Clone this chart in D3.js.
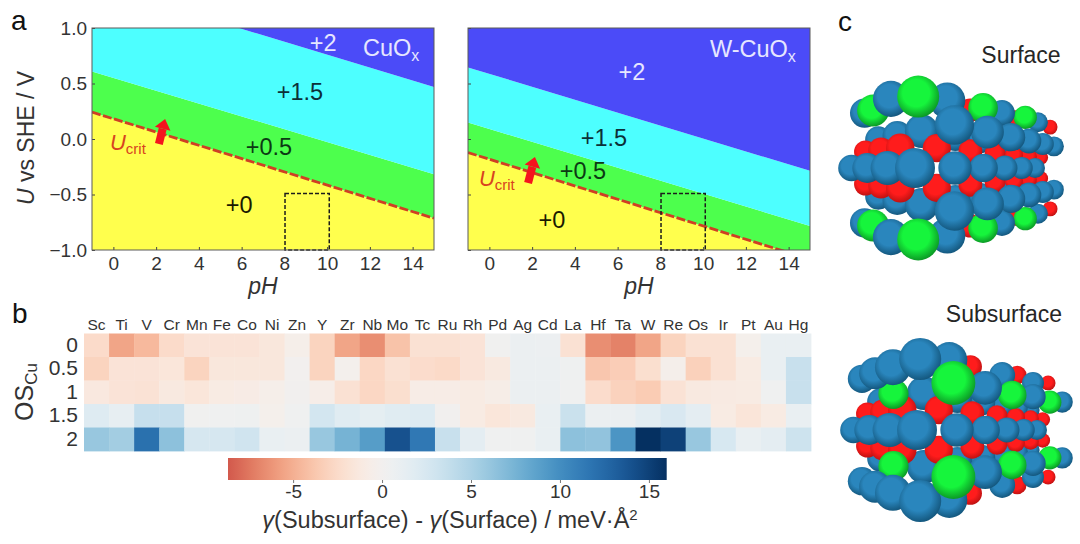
<!DOCTYPE html>
<html>
<head>
<meta charset="utf-8">
<script src="https://d3js.org/d3.v7.min.js"></script>
<style>
  body { margin: 0; background: #fff; }
  svg { display: block; }
  text { font-family: "Liberation Sans", Arial, sans-serif; fill: #262626; }
</style>
</head>
<body>
<svg id="chart" width="1080" height="544"></svg>
<script>
// panel a: band edges, U at pH -1 and pH 15
let phEnds = [-1, 15]
let phTicks = [0, 2, 4, 6, 8, 10, 12, 14]
let uTicks = [-1, -0.5, 0, 0.5, 1]
let bandColors = ["#ffff4d", "#4dff4d", "#4dffff", "#4b4bf8"]
let cuoxCrit = [0.242, -0.714]
let cuoxEdge1 = [0.609, -0.317]
let cuoxEdge2 = [1.40, 0.468]
let wcuoxCrit = [-0.122, -1.084]
let wcuoxEdge1 = [0.149, -0.783]
let wcuoxEdge2 = [0.645, -0.287]
let boxPh = [8.03, 10.1]
let boxU = [-1, -0.49]

// [text, pH, U, colour]
let cuoxLabels = [["+2", 9.81, 0.865, "#e6e6ff"], ["+1.5", 8.73, 0.423, "#0c3038"], ["+0.5", 7.28, -0.072, "#0c3a14"], ["+0", 5.88, -0.595, "#1a1a00"]]
let wcuoxLabels = [["+2", 6.67, 0.604, "#e6e6ff"], ["+1.5", 5.36, 0.009, "#0c3038"], ["+0.5", 4.38, -0.288, "#0c3a14"], ["+0", 2.93, -0.73, "#1a1a00"]]
// arrow tail and tip as [pH, U]
let cuoxArrow = [[2.13, -0.045], [2.42, 0.18]]
let wcuoxArrow = [[1.81, -0.396], [2.13, -0.162]]

// panel b
let elements = ["Sc","Ti","V","Cr","Mn","Fe","Co","Ni","Zn","Y","Zr","Nb","Mo","Tc","Ru","Rh","Pd","Ag","Cd","La","Hf","Ta","W","Re","Os","Ir","Pt","Au","Hg"]
let osLevels = ["0", "0.5", "1", "1.5", "2"]
let os0 = [-2.5,-5.5,-4.5,-2.5,-1.8,-1.8,-1.8,-1.5,-0.5,-3,-5.5,-6.5,-4,-2,-2,-1.8,0.2,0.8,0.7,-2,-6.5,-7,-5.5,-3,-2,-2,-0.3,1,1]
let os05 = [-3,-1.8,-1.8,-1.6,-3,-1.5,-1.5,-1.5,0,-3,-0.2,-2.8,-2,-2.4,-2.6,-1.8,-1.2,0.8,0.8,0.5,-3.8,-3.4,-2.2,-0.4,-3.2,-2,-1,1,3.5]
let os1 = [-1.3,-1.8,-1.9,-1.2,-1.6,-1,-0.9,-0.5,0.1,-0.6,-2,-2.8,-2.2,-0.8,-0.8,-1,-0.7,0.8,0.8,0.3,-2.4,-3.1,-3.5,-1.9,-1.2,-1.1,-1,0.3,3.5]
let os15 = [2,1.2,3.6,3.6,0.2,0.4,0.5,-0.3,0.4,2.8,1.8,1.4,1.8,2,0.1,-1,-1.6,-1.2,1,3.4,0.8,0.8,1.6,2.4,1.5,-1,-1.7,-1,1]
let os2 = [6,5.5,12,6.5,2.6,2.6,3,1,0.8,6,7.5,9,14,11.5,3.5,1.5,0.3,0.3,1,6.5,6.3,9.5,16,15,6,2.5,1,1.5,3.2]
let barDomain = [-8.66, 16]
let barTicks = [-5, 0, 5, 10, 15]

// panel c: atoms as [kind, a, b, h] in lattice units, h is mirrored to -h
let midRowAtoms = [[0,0],[1,0],[2,0],[3,0],[4,0],[5,0],[0,1],[0,2],[0,3]]
let oxygenAtoms = [[0.5,0],[1.5,0],[2.5,0],[3.5,0],[4.5,0],[5.5,0],[0,0.5],[0,1.3],[0,2.1]]
let innerAtoms = [[1.5,0.5],[2.5,0.5],[3.5,0.5],[4.5,0.5],[5.5,0.5]]
let surfaceAtoms = [
  ["B",0.5,-0.5,1],["B",1.5,-0.5,1],["B",2.5,-0.5,1],["B",3.5,-0.5,1],["B",4.5,-0.5,1],["B",5.5,-0.5,1],
  ["B",0.5,0.5,1],["B",0.5,1.5,1],["B",0.5,2.5,1],
  ["G",-0.07,-0.2,1.56],["B",0.66,-0.13,1.72],["G",1.84,-0.11,1.86],["B",2.75,-0.06,1.94],["G",3.8,-0.23,2],["B",5.07,-0.08,2.1],
  ["B",-0.07,0.73,1.76],["G",-0.06,1.55,1.65],["B",0,2.15,1.72],
  ["R",1.55,0.05,1.75],["R",3.4,-0.1,1.85],["R",5.65,-0.3,1.95]
]
let subsurfaceAtoms = [
  ["G",0.19,-0.75,0.98],["B",1.36,-0.49,1.15],["G",2.46,-0.5,1.13],["B",3.43,-0.6,1.21],["G",4.26,-0.76,1.1],["B",5.15,-0.84,1.21],
  ["B",0.5,0.5,1],["G",0.35,1.5,1.1],["B",0.5,2.5,1],
  ["B",-0.07,-0.2,1.55],["B",0.66,-0.13,1.78],["B",2.72,-0.02,1.94],["B",4.26,-0.2,1.96],
  ["B",-0.07,0.73,1.6],["B",-0.06,1.55,1.63],["B",0,2.43,1.66],
  ["R",1.56,0.12,1.93],["R",3.41,-0.1,2.1],["R",5.57,-0.18,2.25]
]

let svg = d3.select("#chart")
let defs = svg.append("defs")

function panelLetter(text, x, y) {
  svg.append("text").attr("x", x).attr("y", y).style("font-size", "28px").style("fill", "#111").text(text)
}
panelLetter("a", 11, 30)
panelLetter("b", 12, 323)
panelLetter("c", 838, 31)

// ---- panel a ----
function drawDiagram(id, left, crit, edge1, edge2, labels, arrow, showU) {
  let x = d3.scaleLinear().domain(phEnds).range([left, left + 342])
  let y = d3.scaleLinear().domain([-1, 1]).range([250, 28])
  let g = svg.append("g").attr("id", id)

  defs.append("clipPath").attr("id", "clip-" + id).append("rect")
      .attr("x", left).attr("y", 28).attr("width", 342).attr("height", 222)

  let floorU = [-1.2, -1.2]
  let roofU = [1.6, 1.6]
  let edges = [floorU, crit, edge1, edge2, roofU]
  let area = d3.area()
      .x(d => x(d.ph))
      .y0(d => y(d.lo))
      .y1(d => y(d.hi))

  bandColors.forEach((color, i) => {
    let points = phEnds.map((ph, k) => ({ph: ph, lo: edges[i][k], hi: edges[i + 1][k]}))
    g.append("path").attr("d", area(points)).attr("fill", color)
        .attr("clip-path", "url(#clip-" + id + ")")
  })

  // critical potential
  let line = d3.line().x(d => x(d[0])).y(d => y(d[1]))
  g.append("path").attr("d", line(phEnds.map((ph, k) => [ph, crit[k]])))
      .attr("fill", "none").attr("stroke", "#cf3f24").attr("stroke-width", 2.8)
      .attr("stroke-dasharray", "9 2.5").attr("clip-path", "url(#clip-" + id + ")")

  // dashed box
  g.append("rect").attr("x", x(boxPh[0])).attr("y", y(boxU[1]))
      .attr("width", x(boxPh[1]) - x(boxPh[0])).attr("height", y(boxU[0]) - y(boxU[1]))
      .attr("fill", "none").attr("stroke", "#1c1c1c").attr("stroke-width", 1.5).attr("stroke-dasharray", "4 2")

  // red arrow
  let x0 = x(arrow[0][0]), y0 = y(arrow[0][1]), x1 = x(arrow[1][0]), y1 = y(arrow[1][1])
  let len = Math.hypot(x1 - x0, y1 - y0)
  let ux = (x1 - x0) / len, uy = (y1 - y0) / len
  let bx = x1 - ux * 10, by = y1 - uy * 10
  g.append("line").attr("x1", x0).attr("y1", y0).attr("x2", bx).attr("y2", by)
      .attr("stroke", "#f5141e").attr("stroke-width", 8)
  g.append("path").attr("fill", "#f5141e")
      .attr("d", "M" + x1 + "," + y1 + "L" + (bx - uy * 8) + "," + (by + ux * 8) + "L" + (bx + uy * 8) + "," + (by - ux * 8) + "Z")

  g.selectAll("text.state").data(labels).enter().append("text")
      .attr("class", "state")
      .attr("x", d => x(d[1])).attr("y", d => y(d[2]))
      .attr("text-anchor", "middle").attr("dominant-baseline", "central")
      .style("font-size", "23.5px").style("fill", d => d[3])
      .text(d => d[0])

  // axes
  let xAxis = d3.axisBottom(x).tickValues(phTicks).tickFormat(d3.format("d"))
      .tickSizeInner(-3).tickSizeOuter(0).tickPadding(6.5)
  let yAxis = d3.axisLeft(y).tickValues(uTicks).tickSizeInner(-3).tickSizeOuter(0).tickPadding(5)
      .tickFormat(showU ? d3.format(".1f") : "")
  let xg = g.append("g").attr("transform", "translate(0,250)").call(xAxis)
  let yg = g.append("g").attr("transform", "translate(" + left + ",0)").call(yAxis)
  ;[xg, yg].forEach(a => {
    a.selectAll("text").style("font-size", "19px").style("font-family", "'Liberation Sans'").style("fill", "#333")
    a.selectAll("line").attr("stroke", "#444")
    a.select(".domain").remove()
  })
  g.append("rect").attr("x", left).attr("y", 28).attr("width", 342).attr("height", 222)
      .attr("fill", "none").attr("stroke", "#5a5a5a").attr("stroke-width", 1)

  let label = g.append("text").attr("x", left + 171).attr("y", 294)
      .attr("text-anchor", "middle").style("font-size", "23px").style("font-style", "italic").style("fill", "#333")
      .text("pH")
  return {g: g, x: x, y: y, label: label}
}

function addName(p, ph, u, name, sizeSub) {
  let t = p.g.append("text").attr("x", p.x(ph)).attr("y", p.y(u)).style("font-size", "23.5px").style("fill", "#e6e6ff")
  t.append("tspan").style("fill", "#e6e6ff").text(name)
  t.append("tspan").attr("dy", 5).style("font-size", sizeSub + "px").style("fill", "#e6e6ff").text("x")
}

function addCrit(p, ph, u) {
  let t = p.g.append("text").attr("x", p.x(ph)).attr("y", p.y(u)).style("font-size", "22px").style("fill", "#d8431f")
  t.append("tspan").style("font-style", "italic").style("fill", "#d8431f").text("U")
  t.append("tspan").attr("dy", 4).style("font-size", "15px").style("fill", "#d8431f").text("crit")
}

let cuox = drawDiagram("cuox", 92, cuoxCrit, cuoxEdge1, cuoxEdge2, cuoxLabels, cuoxArrow, true)
let wcuox = drawDiagram("wcuox", 468, wcuoxCrit, wcuoxEdge1, wcuoxEdge2, wcuoxLabels, wcuoxArrow, false)
addName(cuox, 11.68, 0.748, "CuO", 16)
addName(wcuox, 10.32, 0.739, "W-CuO", 16)
addCrit(cuox, -0.16, -0.099)
addCrit(wcuox, -0.49, -0.423)

let uTitle = svg.append("text").attr("transform", "translate(34,138) rotate(-90)")
    .attr("text-anchor", "middle").style("font-size", "23px").style("fill", "#333")
uTitle.append("tspan").style("font-style", "italic").style("fill", "#333").text("U")
uTitle.append("tspan").style("fill", "#333").text(" vs SHE / V")

// ---- panel b ----
// reds run a bit stronger than blues in the reference
let color = d3.scaleDiverging(d3.interpolateRdBu).domain([-14, 0, 16])
let rows = [os0, os05, os1, os15, os2]

let hx = d3.scaleBand().domain(elements).range([84, 811])
let hy = d3.scaleBand().domain(osLevels).range([333.5, 451])
let heat = svg.append("g").attr("id", "heat")

rows.forEach((values, r) => {
  heat.selectAll("rect.r" + r).data(values).enter().append("rect")
      .attr("class", "r" + r)
      .attr("x", (d, i) => hx(elements[i]))
      .attr("y", hy(osLevels[r]))
      .attr("width", hx.bandwidth() + 0.4)
      .attr("height", hy.bandwidth() + 0.4)
      .attr("fill", d => color(d))
})

let topAxis = heat.append("g").attr("transform", "translate(0,330)").call(d3.axisTop(hx).tickSize(0).tickPadding(0))
topAxis.select(".domain").remove()
topAxis.selectAll("text").style("font-size", "15.5px").style("font-family", "'Liberation Sans'").style("fill", "#333")

let leftAxis = heat.append("g").attr("transform", "translate(79,0)").call(d3.axisLeft(hy).tickSize(0).tickPadding(1))
leftAxis.select(".domain").remove()
leftAxis.selectAll("text").style("font-size", "21px").style("font-family", "'Liberation Sans'").style("fill", "#333")

let osTitle = svg.append("text").attr("transform", "translate(33,392) rotate(-90)")
    .attr("text-anchor", "middle").style("font-size", "25px").style("fill", "#333")
osTitle.append("tspan").style("fill", "#333").text("OS")
osTitle.append("tspan").attr("dy", 4).style("font-size", "17px").style("fill", "#333").text("Cu")

// colour bar
let bx = d3.scaleLinear().domain(barDomain).range([228, 666.7])
let grad = defs.append("linearGradient").attr("id", "bar-grad")
d3.range(0, 41).forEach(i => {
  let t = i / 40
  grad.append("stop").attr("offset", t)
      .attr("stop-color", color(barDomain[0] + t * (barDomain[1] - barDomain[0])))
})
svg.append("rect").attr("x", 228).attr("y", 458).attr("width", 438.7).attr("height", 22).attr("fill", "url(#bar-grad)")

let barAxis = svg.append("g").attr("transform", "translate(0,480)")
    .call(d3.axisBottom(bx).tickValues(barTicks).tickFormat(d => String(d)).tickSize(3).tickSizeOuter(0).tickPadding(2))
barAxis.select(".domain").remove()
barAxis.selectAll("line").attr("stroke", "#777")
barAxis.selectAll("text").style("font-size", "19px").style("font-family", "'Liberation Sans'").style("fill", "#333")

let barTitle = svg.append("text").attr("x", 450).attr("y", 528).attr("text-anchor", "middle")
    .style("font-size", "23.5px").style("fill", "#333")
barTitle.append("tspan").style("font-style", "italic").style("fill", "#333").text("γ")
barTitle.append("tspan").style("fill", "#333").text("(Subsurface) - ")
barTitle.append("tspan").style("font-style", "italic").style("fill", "#333").text("γ")
barTitle.append("tspan").style("fill", "#333").text("(Surface) / meV·Å")
barTitle.append("tspan").attr("dy", -8).style("font-size", "15px").style("fill", "#333").text("2")

// ---- panel c ----
let atomStyles = {
  B: {inner: "#2a86bd", edge: "#14587f", size: 20},
  G: {inner: "#16f53c", edge: "#0c9a26", size: 20},
  R: {inner: "#ff1c1c", edge: "#c01212", size: 15.5}
}
Object.keys(atomStyles).forEach(k => {
  let g = defs.append("radialGradient").attr("id", "atom-" + k)
      .attr("cx", 0.45).attr("cy", 0.42).attr("r", 0.58)
  g.append("stop").attr("offset", 0.55).attr("stop-color", atomStyles[k].inner)
  g.append("stop").attr("offset", 1).attr("stop-color", atomStyles[k].edge)
})

// two point perspective around the front atom of the middle row
function drawCluster(cx, cy, atoms) {
  let depth = (a, b) => 1 / (1 + 0.2 * a + 0.17 * b)
  let all = []
  // stacking order: back layers first, then depth within a layer
  innerAtoms.forEach(d => {
    all.push(["B", d[0], d[1], 1, 0])
    all.push(["B", d[0], d[1], -1, 0])
  })
  atoms.forEach(d => {
    let rank = 1
    if (d[0] == "R") rank = 0
    else if (Math.abs(d[3]) > 1.3 || d[0] == "G") rank = 3
    if (d[2] < 0 && Math.abs(d[3]) < 1.3) rank = 4
    all.push([d[0], d[1], d[2], d[3], rank])
    all.push([d[0], d[1], d[2], -d[3], rank])
  })
  oxygenAtoms.forEach(d => {
    all.push(["R", d[0], d[1], 0.5, 2])
    all.push(["R", d[0], d[1], -0.5, 2])
  })
  midRowAtoms.forEach(d => all.push(["B", d[0], d[1], 0, 4]))
  all.sort((p, q) => (p[4] - q[4]) || (depth(p[1], p[2]) - depth(q[1], q[2])))

  svg.append("g").selectAll("circle").data(all).enter().append("circle")
      .attr("cx", d => cx + (48 * d[1] - 32 * d[2]) * depth(d[1], d[2]))
      .attr("cy", d => cy - 43.6 * d[3] * depth(d[1], d[2]))
      .attr("r", d => atomStyles[d[0]].size * depth(d[1], d[2]))
      .attr("fill", d => "url(#atom-" + d[0] + ")")
}
drawCluster(915, 168, surfaceAtoms)
drawCluster(917, 430, subsurfaceAtoms)

svg.append("text").attr("x", 1021).attr("y", 63).attr("text-anchor", "middle").style("font-size", "23px").text("Surface")
svg.append("text").attr("x", 1004).attr("y", 322).attr("text-anchor", "middle").style("font-size", "23px").text("Subsurface")
</script>
</body>
</html>
